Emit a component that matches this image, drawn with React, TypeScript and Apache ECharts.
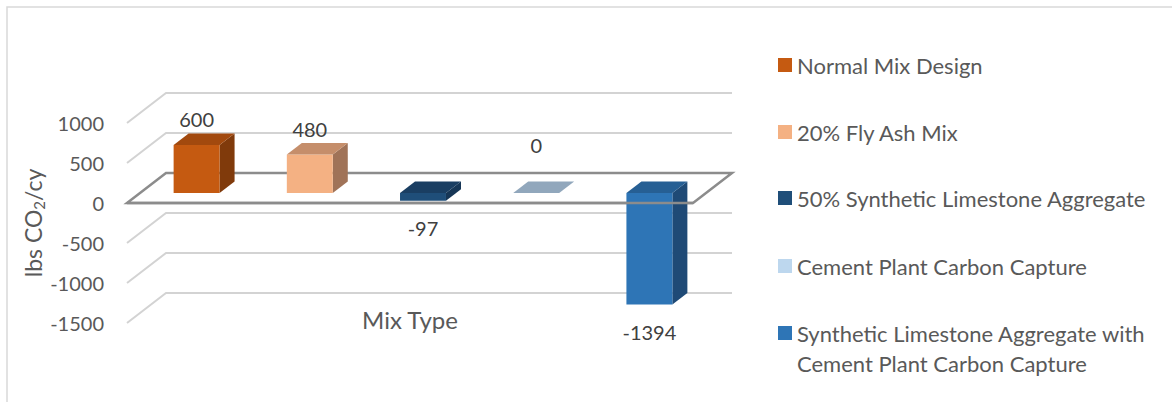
import React, { useEffect, useRef } from "react";
import * as echarts from "echarts";

// ---- data ----
const categories = ["Mix Type"];
const seriesNames = [
  "Normal Mix Design",
  "20% Fly Ash Mix",
  "50% Synthetic Limestone Aggregate",
  "Cement Plant Carbon Capture",
  "Synthetic Limestone Aggregate with Cement Plant Carbon Capture",
];
const seriesValues = [600, 480, -97, 0, -1394];
const yTicks = [-1500, -1000, -500, 0, 500, 1000];

// ---- styles ----
const FRONT_COLORS = ["#C55A11", "#F4B183", "#1F4E79", "#BDD7EE", "#2E75B6"];
const TOP_COLORS = ["#A2490E", "#C58E6B", "#1A3E62", "#91A7BC", "#265F94"];
const SIDE_COLORS = ["#803A0B", "#A07358", "#163656", "#7A8FA3", "#1F4A76"];
const FONT = "Lato";
const AXIS_TEXT = "#595959";
const LABEL_TEXT = "#404040";

// perspective offsets (pixels) for the back wall and for the bars
const WALL_DX = 39;
const WALL_DY = -30;
const BAR_FX = 13; // bar front face sits this far behind the front plane
const BAR_FY = -10;
const BAR_DX = 15; // bar depth
const BAR_DY = -11.5;
const BAR_WIDTH_RATIO = 0.406;

const N = seriesValues.length;

function gridRenderItem(params: any, api: any) {
  const t = api.value(1);
  if (t === 0) return { type: "group", children: [] };
  const rect = params.coordSys;
  const y = api.coord([0, t])[1];
  const xL = rect.x;
  const xR = rect.x + rect.width;
  return {
    type: "polyline",
    shape: {
      points: [
        [xL, y],
        [xL + WALL_DX, y + WALL_DY],
        [xR + WALL_DX, y + WALL_DY],
      ],
    },
    style: { stroke: "#D3D3D3", lineWidth: 2, fill: null },
    silent: true,
  };
}

function floorRenderItem(frontOnly: boolean) {
  return (params: any, api: any) => {
    const rect = params.coordSys;
    const y = api.coord([0, api.value(1)])[1];
    const xL = rect.x;
    const xR = rect.x + rect.width;
    const style = { stroke: "#8C8C8C", lineWidth: 2.5, fill: null };
    if (frontOnly) {
      return {
        type: "line",
        shape: { x1: xL, y1: y, x2: xR, y2: y },
        style,
        silent: true,
      };
    }
    return {
      type: "polygon",
      shape: {
        points: [
          [xL, y],
          [xR, y],
          [xR + WALL_DX, y + WALL_DY],
          [xL + WALL_DX, y + WALL_DY],
        ],
      },
      style,
      silent: true,
    };
  };
}

function barRenderItem(i: number) {
  return (params: any, api: any) => {
    const v = api.value(1);
    const base = api.coord([0, 0]);
    const tip = api.coord([0, v]);
    const band = api.size([1, 0])[0];
    const slot = band / N;
    const cx = base[0] - band / 2 + (i + 0.5) * slot + BAR_FX;
    const w = slot * BAR_WIDTH_RATIO;
    const x0 = cx - w / 2;
    const x1 = cx + w / 2;
    const y0 = base[1] + BAR_FY;
    const y1 = tip[1] + BAR_FY;
    const yT = Math.min(y0, y1);
    const yB = Math.max(y0, y1);
    const children: any[] = [];
    if (yB - yT > 0.5) {
      children.push({
        type: "polygon",
        shape: {
          points: [
            [x1, yT],
            [x1 + BAR_DX, yT + BAR_DY],
            [x1 + BAR_DX, yB + BAR_DY],
            [x1, yB],
          ],
        },
        style: { fill: SIDE_COLORS[i] },
      });
      children.push({
        type: "rect",
        shape: { x: x0, y: yT, width: w, height: yB - yT },
        style: { fill: FRONT_COLORS[i] },
      });
    }
    children.push({
      type: "polygon",
      shape: {
        points: [
          [x0, yT],
          [x1, yT],
          [x1 + BAR_DX, yT + BAR_DY],
          [x0 + BAR_DX, yT + BAR_DY],
        ],
      },
      style: { fill: TOP_COLORS[i] },
    });
    const labelY = v > 0 ? yT - 26 : v === 0 ? yT - 48 : yB + 27;
    children.push({
      type: "text",
      x: cx,
      y: labelY,
      style: {
        text: String(v),
        fill: LABEL_TEXT,
        font: `20px ${FONT}`,
        align: "center",
        verticalAlign: "middle",
        textAlign: "center",
        textVerticalAlign: "middle",
      },
    });
    return { type: "group", children };
  };
}

// top edge of each legend entry
const legendTops = [54, 121, 187, 255, 288];

export default function App() {
  const ref = useRef<HTMLDivElement>(null);

  useEffect(() => {
    if (!ref.current) return;
    const chart = echarts.init(ref.current, undefined, { renderer: "svg" });

    const legends = seriesNames.map((name, i) => {
      const last = i === seriesNames.length - 1;
      return {
        orient: "vertical",
        left: 778,
        top: legendTops[i],
        padding: 0,
        icon: "rect",
        itemWidth: 14,
        itemHeight: 14,
        itemGap: 0,
        selectedMode: false,
        data: [name],
        // long name wraps onto two lines; the leading blank line keeps the
        // marker level with the first line of text
        formatter: last
          ? () => "\nSynthetic Limestone Aggregate with\nCement Plant Carbon Capture"
          : undefined,
        textStyle: {
          fontFamily: FONT,
          fontSize: 22,
          color: AXIS_TEXT,
          lineHeight: last ? 30 : 22,
        },
      };
    });

    const barSeries = seriesNames.map((name, i) => ({
      name,
      type: "custom",
      z: 3,
      coordinateSystem: "cartesian2d",
      itemStyle: { color: FRONT_COLORS[i] },
      renderItem: barRenderItem(i),
      data: [[0, seriesValues[i]]],
      clip: false,
    }));

    chart.setOption({
      animation: false,
      backgroundColor: "#FFFFFF",
      textStyle: { fontFamily: FONT },
      graphic: [
        {
          type: "rect",
          shape: { x: 7, y: 7, width: 1200, height: 500 },
          style: { fill: null, stroke: "#D9D9D9", lineWidth: 1.5 },
          silent: true,
          z: 0,
        },
      ],
      legend: legends,
      grid: { left: 127, right: 479, top: 123, bottom: 79 },
      xAxis: {
        type: "category",
        data: categories,
        axisLine: { show: false, onZero: false },
        axisTick: { show: false },
        splitLine: { show: false },
        axisLabel: {
          margin: -16,
          fontSize: 24,
          fontFamily: FONT,
          color: AXIS_TEXT,
        },
      },
      yAxis: {
        type: "value",
        min: -1500,
        max: 1000,
        interval: 500,
        axisLine: { show: false },
        axisTick: { show: false },
        splitLine: { show: false },
        axisLabel: {
          margin: 23,
          fontSize: 20,
          fontFamily: FONT,
          color: AXIS_TEXT,
          formatter: (val: number) => (yTicks.includes(val) ? String(val) : ""),
        },
        name: "lbs CO{s|2}/cy",
        nameLocation: "middle",
        nameGap: 80,
        nameTextStyle: {
          fontSize: 23,
          fontFamily: FONT,
          color: AXIS_TEXT,
          lineHeight: 27,
          rich: {
            s: {
              fontSize: 15,
              fontFamily: FONT,
              color: AXIS_TEXT,
              lineHeight: 16,
              verticalAlign: "bottom",
            },
          },
        },
      },
      series: [
        {
          type: "custom",
          z: 1,
          silent: true,
          renderItem: gridRenderItem,
          data: yTicks.map((t) => [0, t]),
          clip: false,
        },
        {
          type: "custom",
          z: 2,
          silent: true,
          renderItem: floorRenderItem(false),
          data: [[0, 0]],
          clip: false,
        },
        ...barSeries,
        {
          type: "custom",
          z: 4,
          silent: true,
          renderItem: floorRenderItem(true),
          data: [[0, 0]],
          clip: false,
        },
      ],
    });

    return () => chart.dispose();
  }, []);

  return (
    <div
      ref={ref}
      style={{ position: "absolute", left: 0, top: 0, width: 1172, height: 402 }}
    />
  );
}
